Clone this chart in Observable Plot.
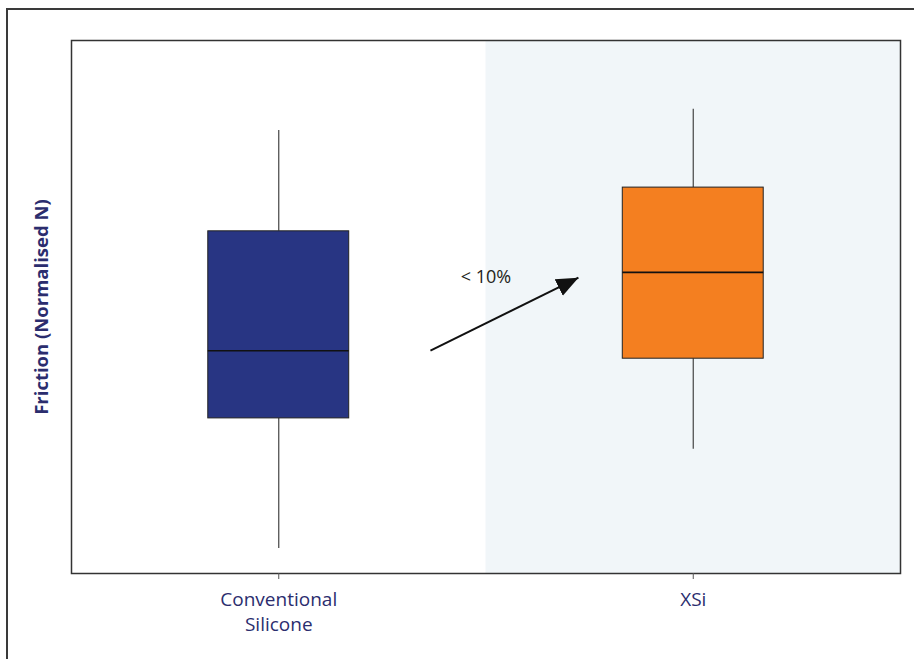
<!DOCTYPE html>
<html>
<head>
<meta charset="utf-8">
<script src="https://cdn.jsdelivr.net/npm/d3@7"></script>
<script src="https://cdn.jsdelivr.net/npm/@observablehq/plot@0.6"></script>
<style>
  html, body { margin: 0; padding: 0; background: #fff; overflow: hidden; }
  #wrap { position: relative; width: 914px; height: 659px; overflow: hidden; }
  #outer { position: absolute; left: 6px; top: 8px; width: 1000px; height: 1000px; border: 2px solid #3a3a3a; box-sizing: border-box; }
  #chart { position: absolute; left: 0; top: 0; }
</style>
</head>
<body>
<div id="wrap"><div id="outer"></div><div id="chart"></div></div>
<script>
// Data (normalised friction, arbitrary units)
const categories = ["Conventional\nSilicone", "XSi"];
const whiskerLow = [4.7, 23.3];
const q1 = [29.1, 40.3];
const median = [41.8, 56.5];
const q3 = [64.2, 72.4];
const whiskerHigh = [83.1, 87.1];
const boxColors = ["#283583", "#f47f20"];
const yLabel = "Friction (Normalised N)";
const annotation = "< 10%";

const rows = categories.map((c, i) => ({
  cat: c, i, pos: i + 0.5,
  low: whiskerLow[i], q1: q1[i], med: median[i], q3: q3[i], high: whiskerHigh[i],
  color: boxColors[i]
}));
const half = 0.17;
const navy = "#2b2d6e";

const chart = Plot.plot({
  width: 914,
  height: 659,
  marginLeft: 71,
  marginRight: 14,
  marginTop: 40,
  marginBottom: 86,
  style: { fontFamily: "'Open Sans', 'Noto Sans', sans-serif", fontSize: "17px", background: "transparent" },
  x: { domain: [0, categories.length], axis: null, label: null },
  y: { domain: [0, 100], axis: null, label: null },
  marks: [
    // shaded region for second category
    Plot.rect([rows[1]], { x1: d => d.i, x2: d => d.i + 1, y1: 0, y2: 100, fill: "#f1f6f9" }),
    // whiskers
    Plot.ruleX(rows, { x: "pos", y1: "low", y2: "q1", stroke: "#444", strokeWidth: 1.2 }),
    Plot.ruleX(rows, { x: "pos", y1: "q3", y2: "high", stroke: "#444", strokeWidth: 1.2 }),
    // boxes
    Plot.rect(rows, { x1: d => d.pos - half, x2: d => d.pos + half, y1: "q1", y2: "q3", fill: "color", stroke: "#222", strokeWidth: 1 }),
    // medians
    Plot.ruleY(rows, { y: "med", x1: d => d.pos - half, x2: d => d.pos + half, stroke: "#111", strokeWidth: 1.6 }),
    // arrow between medians
    Plot.link([0], {
      x1: () => rows[0].pos + 0.366, y1: () => rows[0].med,
      x2: () => rows[1].pos - 0.277, y2: () => rows[1].med - 1,
      stroke: "#111", strokeWidth: 2, markerEnd: "arrow"
    }),
    Plot.text([annotation], { x: () => 1.0, y: () => 55.6, text: d => d, fill: "#231f20", fontSize: 18, textAnchor: "middle" }),
    // frame
    Plot.frame({ stroke: "#333", strokeWidth: 1.5 }),
    // x axis
    Plot.axisX({ ticks: rows.map(d => d.pos), tickFormat: (d) => categories[Math.floor(d)], tickSize: 6, tickPadding: 9, stroke: "#555", fill: navy, fontSize: 19, lineHeight: 1.3, label: null }),
    // y label
    Plot.text([yLabel], { x: () => 0, y: () => 50, dx: -29, rotate: -90, textAnchor: "middle", text: d => d, fill: navy, fontWeight: "bold", fontSize: 18.5 })
  ]
});
// make arrow head filled triangle
d3.select(chart).selectAll("marker").each(function () {
  const m = d3.select(this);
  m.attr("markerWidth", 11).attr("markerHeight", 11).attr("viewBox", "-5 -5 10 10").attr("refX", 5).attr("refY", 0);
  m.selectAll("path").attr("d", "M-5,-4.2L5,0L-5,4.2Z").attr("fill", "#111").attr("stroke", "none");
});
document.getElementById("chart").appendChild(chart);
</script>
</body>
</html>
